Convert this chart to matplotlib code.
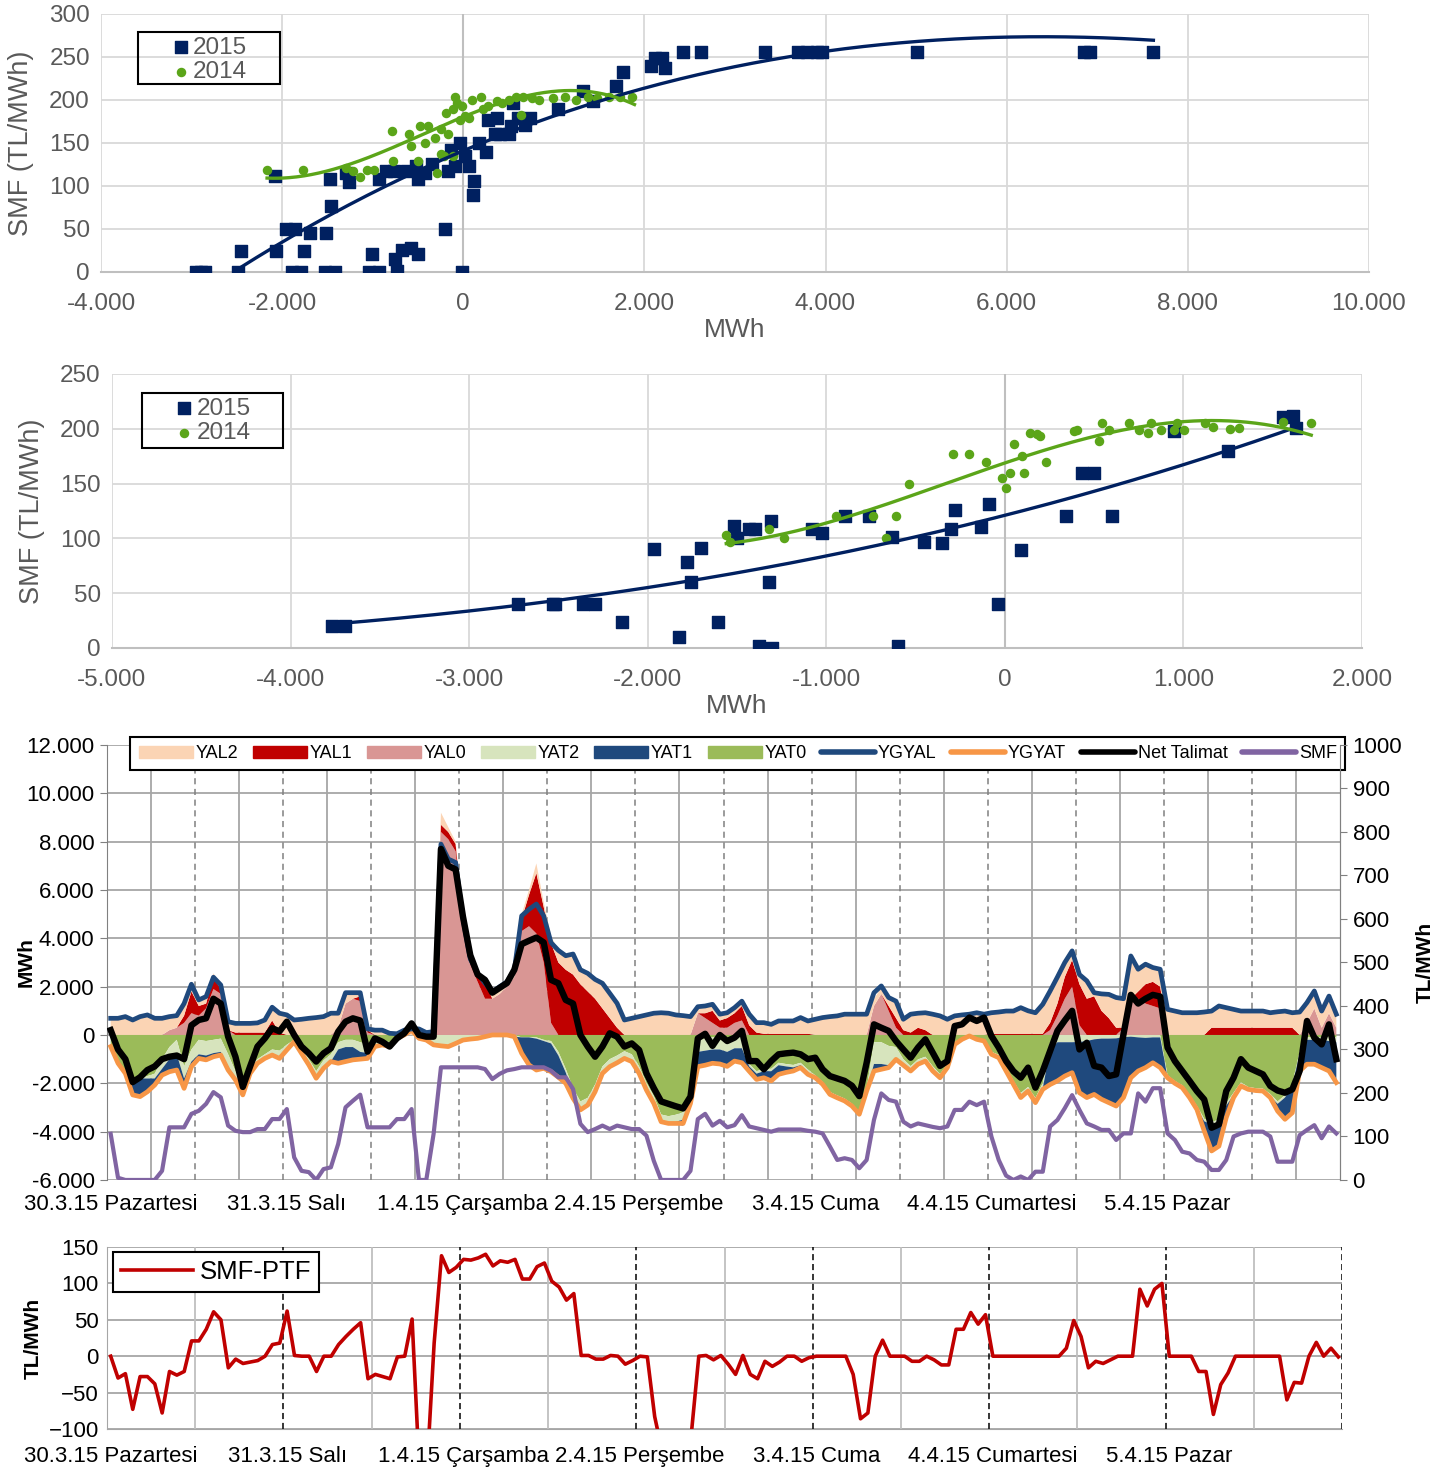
import numpy as np
import matplotlib
matplotlib.use("Agg")
import matplotlib.pyplot as plt
from matplotlib.patches import Patch, Rectangle
from matplotlib.lines import Line2D
from matplotlib.ticker import FuncFormatter, MultipleLocator

plt.rcParams['font.family'] = ['Liberation Sans', 'DejaVu Sans']
NARROW = ['Liberation Sans Narrow', 'Liberation Sans', 'DejaVu Sans']

# ---------------- scatter 1 : SMF vs net imbalance (MWh)
s1_15_x = [-2950, -2900, -2850, -2490, -2450, -2075, -2064, -1962, -1859, -1895, -1792, -1756, -1690,
           -1515, -1525, -1422, -1463, -1473, -1294, -1258, -1037, -935, -1012, -935, -858, -765,
           -755, -730, -678, -575, -498, -626, -524, -498, -421, -344, -200, -164, -139, -87, -36,
           -10, 15, 67, 118, 108, 169, 246, 272, 349, 400, 375, 503, 529, 554, 606, 683, 734, 1042,
           1325, 1428, 1684, 1761, 2069, 2121, 2198, 2223, 2429, 2620, 3327, 3700, 3800, 3900, 3960,
           5012, 6850, 6920, 7620]
s1_15_y = [0, 0, 0, 0, 24, 111, 24, 50, 50, 0, 0, 24, 45,
           45, 0, 0, 77, 108, 115, 105, 0, 0, 21, 108, 117, 117,
           15, 1, 26, 28, 21, 117, 123, 108, 115, 125, 50, 117, 142, 123, 150,
           0, 135, 123, 106, 90, 150, 140, 177, 160, 160, 179, 160, 170, 197, 179, 171, 179, 189,
           210, 199, 216, 232, 239, 249, 249, 237, 256, 256, 256, 256, 256, 256, 256,
           256, 256, 256, 256]
s1_14_x = [-2167, -1772, -1294, -1217, -1140, -1063, -986, -791, -781, -601, -575, -498, -473, -395,
           -421, -318, -293, -241, -216, -190, -164, -113, -87, -72, -36, -10, 15, 67, 92, 195, 221,
           272, 375, 426, 503, 580, 632, 657, 760, 837, 991, 1119, 1247, 1376, 1479, 1607, 1735,
           1864, -241, -113]
s1_14_y = [118, 119, 121, 117, 110, 119, 119, 164, 129, 160, 146, 129, 170, 170,
           150, 156, 115, 166, 135, 185, 160, 189, 204, 197, 177, 193, 181, 179, 200, 203, 189,
           193, 199, 197, 200, 204, 183, 204, 202, 200, 202, 204, 200, 204, 202, 204, 204,
           204, 137, 135]
# trendline points
t1_15_x = [-2490, -1833, -1217, -652, 0, 632, 1300, 1970, 2940, 3670, 4000, 5000, 6000, 6850, 7620]
t1_15_y = [0, 46, 84, 113, 138, 168, 192, 212, 235, 250, 256, 270, 276, 274, 267]
t1_14_x = [-2167, -1936, -1525, -1012, -498, 15, 272, 786, 1299, 1556, 1890]
t1_14_y = [111, 108, 115, 135, 160, 180, 193, 204, 210, 209, 194]

# ---------------- scatter 2
s2_15_x = [-3767, -3697, -2725, -2530, -2517, -2360, -2295, -2146, -1964, -1826, -1782, -1756, -1701,
           -1606, -1517, -1498, -1431, -1399, -1377, -1302, -1323, -1310, -1081, -1022, -893, -759,
           -629, -597, -455, -350, -301, -280, -134, -86, -40, 89, 344, 430, 500, 600, 950, 1251,
           1560, 1614, 1630]
s2_15_y = [20, 20, 40, 40, 40, 40, 40, 24, 90, 10, 78, 60, 91,
           24, 111, 100, 109, 109, 2, 0, 60, 116, 109, 105, 120, 120,
           101, 2, 97, 96, 109, 126, 110, 131, 40, 89, 120, 160, 160, 120, 198, 180,
           211, 212, 201]
s2_14_x = [-1560, -1540, -1323, -1237, -947, -737, -664, -610, -535, -288, -199, -108, -13, 8, 30, 54,
           97, 108, 143, 183, 196, 231, 385, 403, 527, 546, 586, 694, 753, 802, 820, 877, 950, 963,
           1003, 1119, 1165, 1259, 1313, 1560, 1716]
s2_14_y = [103, 97, 109, 100, 120, 120, 100, 120, 150, 177, 177, 170, 155, 146, 160, 186,
           175, 160, 196, 195, 193, 170, 198, 199, 189, 205, 199, 205, 199, 196, 205, 199, 199, 205,
           199, 205, 202, 200, 201, 206, 205]
t2_15_x = [-3767, -3012, -2490, -2000, -1700, -1000, -624, 0, 452, 1000, 1259, 1609]
t2_15_y = [21, 35, 44, 56, 62, 82, 96, 122, 144, 166, 179, 201]
t2_14_x = [-1560, -1237, -995, -624, -355, 0, 452, 990, 1259, 1528, 1716]
t2_14_y = [97, 103, 112, 132, 150, 172, 192, 202, 207, 204, 194]

# ---------------- hourly series 30.3.15 - 5.4.15 (168 hours)
days = ['30.3.15 Pazartesi', '31.3.15 Salı', '1.4.15 Çarşamba', '2.4.15 Perşembe',
        '3.4.15 Cuma', '4.4.15 Cumartesi', '5.4.15 Pazar']

YAL2 = [650, 650, 700, 580, 700, 780, 650, 650, 500, 450, 450, 250, 200, 250, 150, 150, 300, 350, 350, 350, 370, 480, 450, 750,
        780, 580, 600, 640, 670, 700, 850, 550, 400, 200, 150, 0, 150, 150, 50, 30, 150, 200, 200, 80, 100, 500, 200, 100,
        100, 100, 100, 200, 300, 200, 100, 100, 200, 200, 400, 200, 300, 500, 600, 800, 600, 700, 800, 1000, 1000, 1000, 600, 650,
        700, 780, 850, 870, 850, 780, 750, 700, 250, 250, 250, 250, 200, 200, 200, 400, 350, 400, 350, 450, 450, 450, 600, 450,
        600, 670, 700, 740, 800, 800, 800, 800, 300, 250, 300, 600, 400, 700, 550, 650, 800, 750, 600, 750, 780, 800, 870, 800,
        850, 880, 900, 900, 1050, 920, 850, 1150, 1200, 1000, 500, 300, 300, 650, 100, 650, 900, 1200, 1100, 1700, 900, 800, 550, 700,
        1000, 940, 870, 870, 870, 900, 650, 850, 780, 700, 650, 650, 650, 650, 580, 620, 650, 580, 900, 800, 650, 650, 650, 500]
YAL1 = [0, 0, 0, 0, 0, 0, 0, 0, 0, 0, 300, 900, 400, 200, 500, 200, 0, 100, 100, 100, 100, 100, 600, 100,
        0, 0, 0, 0, 0, 0, 0, 0, 0, 0, 200, 100, 0, 0, 0, 0, 0, 0, 0, 0, 0, 300, 300, 300,
        300, 200, 300, 700, 0, 0, 0, 0, 500, 1300, 2500, 2300, 3300, 3000, 2700, 2500, 2100, 1800, 1500, 1100, 700, 300, 0, 0,
        0, 0, 0, 0, 0, 0, 0, 0, 0, 200, 500, 300, 400, 400, 600, 400, 100, 50, 50, 50, 50, 50, 50, 50,
        0, 0, 0, 0, 0, 0, 0, 0, 0, 0, 200, 400, 200, 100, 300, 200, 0, 0, 0, 0, 0, 0, 0, 0,
        50, 50, 50, 50, 50, 50, 50, 50, 300, 500, 900, 1100, 1700, 1500, 1600, 1000, 700, 300, 0, 200, 300, 800, 1000, 900,
        0, 0, 0, 0, 0, 0, 300, 300, 300, 300, 300, 300, 300, 300, 300, 300, 300, 300, 0, 0, 0, 0, 0, 0]
YAL0 = [0, 0, 0, 0, 0, 0, 0, 0, 200, 300, 500, 900, 800, 1100, 1900, 1700, 200, 0, 0, 0, 0, 0, 0, 0,
        0, 0, 0, 0, 0, 0, 0, 300, 1300, 1500, 1400, 100, 0, 0, 0, 0, 0, 0, 0, 0, 0, 8400, 8100, 7600,
        4500, 2900, 2200, 1500, 1500, 1700, 2000, 2400, 4300, 4500, 4200, 3000, 500, 0, 0, 0, 0, 0, 0, 0, 0, 0, 0, 0,
        0, 0, 0, 0, 0, 0, 0, 0, 900, 700, 500, 300, 300, 500, 600, 0, 0, 0, 0, 0, 0, 0, 0, 0,
        0, 0, 0, 0, 0, 0, 0, 0, 1200, 1700, 1000, 300, 0, 0, 0, 0, 0, 0, 0, 0, 0, 0, 0, 0,
        0, 0, 0, 0, 0, 0, 0, 0, 200, 800, 1500, 2000, 400, 0, 0, 0, 0, 0, 300, 1300, 1500, 1300, 1200, 1100,
        0, 0, 0, 0, 0, 0, 0, 0, 0, 0, 0, 0, 0, 0, 0, 0, 0, 0, 0, 500, 1100, 300, 900, 300]
# down-regulation volumes (MWh, drawn below zero)
YAT2 = [0, 0, 0, 0, 0, 100, 200, 400, 500, 600, 500, 500, 600, 600, 550, 550, 500, 250, 250, 200, 150, 150, 200, 300,
        200, 80, 200, 220, 250, 300, 300, 300, 300, 300, 400, 350, 180, 200, 180, 60, 0, 0, 140, 200, 400, 450, 480, 350,
        210, 170, 140, 70, 0, 0, 0, 70, 0, 0, 50, 50, 100, 150, 150, 250, 300, 300, 300, 290, 300, 300, 300, 300,
        300, 300, 300, 300, 300, 300, 300, 300, 500, 500, 500, 500, 550, 450, 450, 100, 100, 100, 100, 100, 100, 100, 100, 100,
        100, 100, 100, 100, 100, 100, 100, 100, 900, 900, 800, 510, 250, 200, 200, 180, 200, 150, 150, 100, 50, 0, 20, 50,
        100, 120, 150, 150, 190, 170, 200, 200, 300, 300, 300, 300, 290, 250, 180, 150, 150, 140, 90, 70, 100, 120, 100, 100,
        100, 100, 100, 100, 100, 100, 100, 100, 100, 100, 100, 100, 100, 100, 100, 100, 100, 100, 100, 100, 100, 100, 150, 200]
YAT1 = [0, 0, 0, 500, 700, 500, 250, 200, 500, 600, 350, 150, 150, 150, 150, 100, 100, 100, 100, 50, 0, 0, 0, 0,
        0, 0, 0, 0, 0, 0, 0, 550, 600, 500, 300, 200, 0, 0, 0, 0, 0, 0, 0, 0, 0, 0, 0, 0,
        0, 0, 0, 0, 0, 0, 0, 0, 650, 1100, 1300, 1150, 1150, 900, 450, 150, 50, 0, 0, 0, 0, 0, 0, 0,
        0, 0, 0, 0, 0, 100, 250, 100, 600, 600, 550, 600, 600, 530, 600, 200, 240, 270, 400, 380, 250, 150, 100, 100,
        0, 0, 0, 0, 0, 0, 0, 0, 290, 220, 100, 0, 0, 0, 0, 0, 0, 0, 0, 0, 0, 0, 0, 0,
        0, 0, 0, 0, 0, 0, 0, 50, 1450, 1600, 1400, 1260, 2100, 2340, 2280, 2510, 2650, 2800, 2500, 1700, 1390, 1230, 1050, 1250,
        0, 0, 0, 0, 50, 400, 1100, 1000, 500, 100, 50, 0, 0, 0, 50, 300, 900, 1100, 700, 1000, 1000, 1150, 1240, 1670]
YAT0 = [450, 1100, 1500, 1900, 1800, 1700, 1600, 1000, 500, 200, 1300, 600, 200, 250, 200, 150, 800, 1500, 2100, 1350, 1000, 800, 600, 650,
        400, 200, 550, 1000, 1500, 1050, 800, 300, 200, 200, 300, 400, 300, 200, 300, 80, 0, 0, 0, 0, 0, 0, 0, 0,
        0, 0, 0, 0, 0, 0, 0, 0, 100, 100, 100, 200, 250, 700, 1400, 2200, 2750, 2600, 2050, 1300, 1000, 850, 670, 800,
        1300, 1980, 2530, 3290, 3360, 3300, 3200, 2500, 200, 150, 100, 100, 150, 100, 100, 1200, 1500, 1400, 1400, 1150, 1200, 1240, 1150, 1430,
        1670, 1940, 2360, 2500, 2630, 2840, 3180, 2220, 300, 300, 450, 500, 1000, 1290, 1010, 900, 1290, 1620, 1200, 290, 130, 40, 160, 200,
        700, 820, 1340, 1890, 2400, 2150, 2600, 2000, 300, 0, 0, 0, 0, 0, 0, 0, 0, 0, 0, 0, 0, 0, 0, 0,
        1670, 1900, 2080, 2490, 2930, 3470, 3600, 3500, 2820, 2390, 1960, 2150, 2200, 2220, 2440, 2750, 2490, 2020, 690, 100, 100, 100, 100, 100]
YGYAL = [690, 690, 760, 620, 760, 830, 690, 690, 760, 800, 1300, 2100, 1450, 1590, 2390, 2070, 550, 480, 480, 480, 500, 620, 1150, 900,
         830, 620, 650, 690, 720, 760, 900, 900, 1750, 1750, 1750, 250, 200, 200, 70, 50, 200, 250, 250, 100, 140, 7900, 7280, 7140,
         4800, 3140, 2550, 2140, 1790, 2000, 2200, 2700, 4930, 5200, 5420, 4930, 3820, 3500, 3280, 3350, 2700, 2550, 2300, 2140, 1725, 1310, 620, 690,
         760, 830, 900, 920, 900, 830, 800, 760, 1170, 1200, 1270, 860, 920, 1130, 1400, 860, 510, 510, 440, 580, 580, 580, 720, 580,
         650, 720, 760, 790, 860, 860, 860, 860, 1750, 2030, 1550, 1400, 650, 860, 900, 920, 860, 790, 650, 790, 830, 860, 920, 860,
         920, 950, 990, 990, 1130, 1000, 920, 1270, 1820, 2400, 3000, 3480, 2500, 2240, 1750, 1700, 1680, 1550, 1500, 3270, 2720, 2930, 2790, 2720,
         1060, 990, 920, 920, 920, 950, 990, 1200, 1130, 1060, 990, 990, 990, 990, 920, 960, 990, 920, 950, 1340, 1820, 990, 1610, 860]
YGYAT = [-480, -1170, -1590, -2480, -2550, -2350, -2070, -1660, -1520, -1450, -2210, -1310, -970, -1030, -900, -830, -1450, -1860, -2480, -1590, -1170, -970, -830, -970,
         -620, -280, -760, -1240, -1790, -1380, -1100, -1170, -1100, -1030, -1000, -970, -480, -410, -480, -140, 0, 200, -140, -210, -410, -450, -480, -350,
         -210, -170, -140, -70, 0, 0, 0, -70, -760, -1240, -1450, -1380, -1520, -1750, -2000, -2620, -3100, -2900, -2350, -1590, -1310, -1150, -970, -1100,
         -1590, -2280, -2830, -3590, -3660, -3660, -3660, -2830, -1310, -1250, -1170, -1200, -1300, -1080, -1150, -1500, -1840, -1770, -1900, -1630, -1550, -1490, -1350, -1630,
         -1770, -2040, -2460, -2600, -2730, -2940, -3280, -2320, -1490, -1420, -1350, -1010, -1250, -1490, -1210, -1080, -1490, -1770, -1350, -390, -180, -40, -180, -250,
         -800, -940, -1490, -2040, -2590, -2320, -2800, -2250, -2050, -1900, -1700, -1560, -2390, -2590, -2460, -2660, -2800, -2940, -2590, -1770, -1490, -1350, -1150, -1350,
         -1770, -2000, -2180, -2590, -3080, -3970, -4800, -4600, -3420, -2590, -2110, -2250, -2300, -2320, -2590, -3150, -3490, -3220, -1490, -1210, -1210, -1350, -1490, -1970]
NET = [200, -600, -1000, -1950, -1750, -1450, -1300, -1000, -900, -850, -1000, 400, 620, 690, 1500, 1300, -70, -900, -2150, -1300, -480, -140, 280, 150,
       550, 0, -480, -760, -1100, -760, -550, 140, 550, 690, 600, -690, -140, -280, -480, -140, 70, 480, 0, -70, -70, 7700, 7000, 6850,
       4900, 3300, 2500, 2280, 1750, 1950, 2150, 2700, 3760, 3900, 4030, 3830, 2280, 2140, 1450, 1300, 0, -480, -900, -480, 70, -70, -480, -350,
       -620, -1590, -2200, -2750, -2850, -2950, -3040, -2550, -140, 50, -450, 0, -250, -110, 170, -1080, -1080, -1420, -1080, -800, -760, -730, -800, -1000,
       -940, -1420, -1700, -1800, -1900, -2100, -2530, -1150, 440, 300, 170, -250, -600, -940, -520, -180, -730, -1280, -1080, 370, 440, 720, 580, 720,
       -40, -520, -1080, -1500, -1770, -1350, -2180, -1490, -660, 170, 600, 1000, -600, -320, -1280, -1350, -1700, -1630, 30, 1660, 1300, 1500, 1660, 1590,
       -520, -1080, -1490, -1900, -2320, -2670, -3840, -3700, -2320, -1770, -1000, -1350, -1490, -1630, -2110, -2300, -2390, -2250, -1490, 580, -110, -390, 440, -1000]
SMF = [106, 5, 0, 0, 0, 0, 0, 21, 121, 121, 121, 152, 159, 175, 202, 190, 125, 113, 110, 110, 117, 117, 140, 140,
       163, 52, 21, 18, 0, 25, 29, 83, 167, 182, 196, 121, 121, 121, 121, 140, 140, 163, 0, 0, 106, 259, 259, 259,
       259, 259, 259, 255, 232, 244, 252, 255, 259, 259, 259, 259, 251, 236, 236, 209, 129, 110, 117, 125, 117, 125, 121, 117,
       117, 102, 44, 0, 0, 0, 0, 21, 140, 152, 125, 136, 121, 126, 149, 123, 119, 115, 111, 116, 116, 116, 116, 113,
       111, 107, 77, 46, 50, 46, 27, 46, 138, 199, 184, 180, 134, 123, 130, 126, 122, 119, 123, 161, 161, 180, 172, 180,
       100, 46, 10, 0, 8, 0, 19, 19, 123, 138, 165, 195, 161, 130, 123, 115, 115, 92, 107, 107, 199, 180, 211, 211,
       107, 92, 65, 61, 46, 42, 23, 23, 46, 100, 107, 111, 111, 111, 100, 42, 42, 42, 103, 115, 126, 96, 123, 107]
SMF_PTF = [0, -30, -24, -73, -28, -28, -38, -78, -21, -26, -21, 21, 21, 37, 61, 50, -16, -4, -10, -8, -6, 0, 16, 18,
           62, 1, 0, 0, -21, 0, 0, 16, 27, 37, 46, -31, -25, -28, -31, -1, 0, 51, -160, -160, 18, 138, 115, 122,
           133, 132, 135, 140, 124, 131, 129, 133, 106, 106, 123, 128, 103, 95, 77, 86, 1, 1, -4, -4, 1, 0, -11, -6,
           0, -1, -83, -130, -130, -130, -130, -105, 0, 1, -5, 1, -11, -25, 1, -25, -31, -7, -14, -8, 0, 0, -7, -2,
           0, 0, 0, 0, 0, -25, -86, -78, 0, 22, 0, 0, 0, -7, -7, 0, -5, -12, -12, 37, 37, 60, 44, 57,
           0, 0, 0, 0, 0, 0, 0, 0, 0, 0, 11, 49, 27, -16, -7, -10, -5, 0, 0, 0, 92, 69, 92, 100,
           0, 0, 0, 0, -21, -21, -80, -39, -23, 0, 0, 0, 0, 0, 0, 0, -60, -36, -37, 0, 19, 0, 11, -1]

NAVY = '#002060'
GREEN = '#5BA519'
GRID = '#D9D9D9'
TXT = '#595959'


def dots(v, pos):
    return f"{v:,.0f}".replace(",", ".")


fig = plt.figure(figsize=(14.54, 14.70), dpi=100)


def scatter_panel(rect, x15, y15, x14, y14, tx15, ty15, tx14, ty14, xlim, xstep, ylim, legpos):
    ax = fig.add_axes(rect)
    ax.scatter(x15, y15, marker='s', s=70, color=NAVY, zorder=3, label='2015')
    ax.scatter(x14, y14, marker='o', s=34, color=GREEN, zorder=4, label='2014')
    for tx, ty, c in ((tx15, ty15, NAVY), (tx14, ty14, GREEN)):
        p = np.polyfit(tx, ty, 3)
        xx = np.linspace(tx[0], tx[-1], 200)
        ax.plot(xx, np.polyval(p, xx), color=c, lw=2.4, zorder=5)
    ax.set_xlim(*xlim)
    ax.set_ylim(*ylim)
    ax.xaxis.set_major_locator(MultipleLocator(xstep))
    ax.yaxis.set_major_locator(MultipleLocator(50))
    ax.xaxis.set_major_formatter(FuncFormatter(dots))
    ax.grid(True, color=GRID, lw=1.3)
    ax.set_axisbelow(True)
    for s in ('top', 'right', 'left'):
        ax.spines[s].set_visible(False)
    ax.spines['bottom'].set_color('#BFBFBF')
    ax.spines['bottom'].set_linewidth(1.5)
    ax.axvline(0, color='#BFBFBF', lw=1.5, zorder=1)
    ax.tick_params(length=0, labelsize=17.5, labelcolor=TXT)
    ax.tick_params(axis='x', pad=15)
    ax.tick_params(axis='y', pad=8)
    ax.set_xlabel('MWh', fontsize=19, color=TXT, labelpad=2)
    ax.set_ylabel('SMF (TL/MWh)', fontsize=19.5, color=TXT, labelpad=11)
    lx, ly, lw_, lh, dy = legpos
    ax.add_patch(Rectangle((lx, ly), lw_, lh, transform=ax.transAxes, fill=False,
                           ec='black', lw=1.5, zorder=6, clip_on=False))
    ax.legend(loc='upper left', bbox_to_anchor=(lx + 0.029, ly + lh - dy), frameon=False,
              fontsize=17.5, handlelength=0.5, handletextpad=0.25, borderpad=0, labelspacing=0.1,
              borderaxespad=0, markerscale=1.0, labelcolor=TXT)
    return ax


scatter_panel([0.0695, 0.815, 0.872, 0.1755], s1_15_x, s1_15_y, s1_14_x, s1_14_y,
              t1_15_x, t1_15_y, t1_14_x, t1_14_y, (-4000, 10000), 2000, (0, 300),
              (0.029, 0.73, 0.112, 0.2, 0.018))
scatter_panel([0.077, 0.5592, 0.8597, 0.1864], s2_15_x, s2_15_y, s2_14_x, s2_14_y,
              t2_15_x, t2_15_y, t2_14_x, t2_14_y, (-5000, 2000), 1000, (0, 250),
              (0.024, 0.73, 0.113, 0.2, 0.017))

# ---------------- hourly balancing chart
xh = np.arange(168) + 0.5
ax3 = fig.add_axes([0.0736, 0.1973, 0.848, 0.2959])
c_pos = ['#D99694', '#C00000', '#FBD4B4']
c_neg = ['#9BBB59', '#D7E4BD', '#1F497D']
ax3.stackplot(xh, YAL0, YAL1, YAL2, colors=c_pos, lw=0, zorder=2)
ax3.stackplot(xh, -np.array(YAT0), -np.array(YAT2), -np.array(YAT1), colors=c_neg, lw=0, zorder=2)
ax3.plot(xh, YGYAT, color='#F79646', lw=3.4, zorder=3)
ax3.plot(xh, YGYAL, color='#1F497D', lw=3.4, zorder=3)
ax3.plot(xh, NET, color='black', lw=4.6, zorder=4)
ax3.set_xlim(0, 168)
ax3.set_ylim(-6000, 12000)
ax3.yaxis.set_major_locator(MultipleLocator(2000))
ax3.yaxis.set_major_formatter(FuncFormatter(dots))
ax3.yaxis.grid(True, color='#A6A6A6', lw=1.3)
ax3.set_axisbelow(True)
for h in range(6, 168, 12):
    ax3.axvline(h, color='#A6A6A6', lw=1.3, zorder=1)
for h in range(12, 168, 12):
    ax3.axvline(h, color='#808080', lw=1.1, ls=(0, (4, 3)), zorder=1)
ax3.set_xticks([d * 24 + 0.5 for d in range(7)])
ax3.set_xticklabels(days, fontfamily=NARROW, fontsize=16)
ax3.tick_params(axis='x', length=0, pad=10)
ax3.tick_params(axis='y', length=5, color='#808080', labelsize=16, pad=4)
for t in ax3.get_yticklabels():
    t.set_fontfamily(NARROW)
for s in ('top', 'bottom'):
    ax3.spines[s].set_visible(False)
ax3.spines['left'].set_color('#808080')
ax3.spines['right'].set_color('#808080')
ax3.set_ylabel('MWh', fontsize=15, fontweight='bold', labelpad=-7)

ax3r = ax3.twinx()
ax3r.plot(xh, SMF, color='#8064A2', lw=3.0, zorder=5)
ax3r.set_ylim(0, 1000)
ax3r.yaxis.set_major_locator(MultipleLocator(100))
ax3r.tick_params(axis='y', length=5, color='#808080', labelsize=16, pad=4)
for t in ax3r.get_yticklabels():
    t.set_fontfamily(NARROW)
for s in ('top', 'bottom', 'left'):
    ax3r.spines[s].set_visible(False)
ax3r.spines['right'].set_color('#808080')
ax3r.set_ylabel('TL/MWh', fontsize=15, fontweight='bold', labelpad=10)

handles = [Patch(color=c_pos[2], label='YAL2'), Patch(color=c_pos[1], label='YAL1'),
           Patch(color=c_pos[0], label='YAL0'), Patch(color=c_neg[1], label='YAT2'),
           Patch(color=c_neg[2], label='YAT1'), Patch(color=c_neg[0], label='YAT0'),
           Line2D([], [], color='#1F497D', lw=4, solid_capstyle='round', label='YGYAL'),
           Line2D([], [], color='#F79646', lw=4, solid_capstyle='round', label='YGYAT'),
           Line2D([], [], color='black', lw=4, solid_capstyle='round', label='Net Talimat'),
           Line2D([], [], color='#8064A2', lw=4, solid_capstyle='round', label='SMF')]
leg = ax3.legend(handles=handles, ncol=10, loc='upper left', bbox_to_anchor=(0.019, 1.018, 0.985, 0.0),
                 mode='expand', fancybox=False, edgecolor='black', framealpha=1,
                 prop={'family': NARROW, 'size': 13}, handlelength=3.0, handleheight=0.6,
                 handletextpad=0.15, columnspacing=0.3, borderpad=0.45, borderaxespad=0)
leg.get_frame().set_linewidth(1.5)
leg.set_zorder(10)

# ---------------- SMF - PTF
ax4 = fig.add_axes([0.0736, 0.0279, 0.8494, 0.1238])
ax4.plot(xh, SMF_PTF, color='#C00000', lw=2.6, label='SMF-PTF', zorder=3)
ax4.set_xlim(0, 168)
ax4.set_ylim(-100, 150)
ax4.yaxis.set_major_locator(MultipleLocator(50))
ax4.yaxis.grid(True, color='#A6A6A6', lw=1.3)
ax4.set_axisbelow(True)
for h in range(12, 168, 24):
    ax4.axvline(h, color='#BFBFBF', lw=1.3, zorder=1)
for h in range(24, 169, 24):
    ax4.axvline(h, color='black', lw=1.1, ls=(0, (4, 2.5)), zorder=2)
ax4.set_xticks([d * 24 + 0.5 for d in range(7)])
ax4.set_xticklabels(days, fontfamily=NARROW, fontsize=16)
ax4.tick_params(axis='x', length=0, pad=12)
ax4.tick_params(axis='y', length=0, labelsize=16, pad=6)
for t in ax4.get_yticklabels():
    t.set_fontfamily(NARROW)
for s in ('top', 'right'):
    ax4.spines[s].set_visible(False)
ax4.spines['left'].set_color('#A6A6A6')
ax4.spines['bottom'].set_color('#A6A6A6')
ax4.set_ylabel('TL/MWh', fontsize=15, fontweight='bold', labelpad=4)
leg4 = ax4.legend(loc='upper left', bbox_to_anchor=(0.005, 0.97), fancybox=False, edgecolor='black',
                  framealpha=1, fontsize=18.5, handlelength=2.8, handletextpad=0.27, borderpad=0.3,
                  borderaxespad=0)
leg4.get_frame().set_linewidth(1.5)

fig.savefig('out.png', dpi=100)
